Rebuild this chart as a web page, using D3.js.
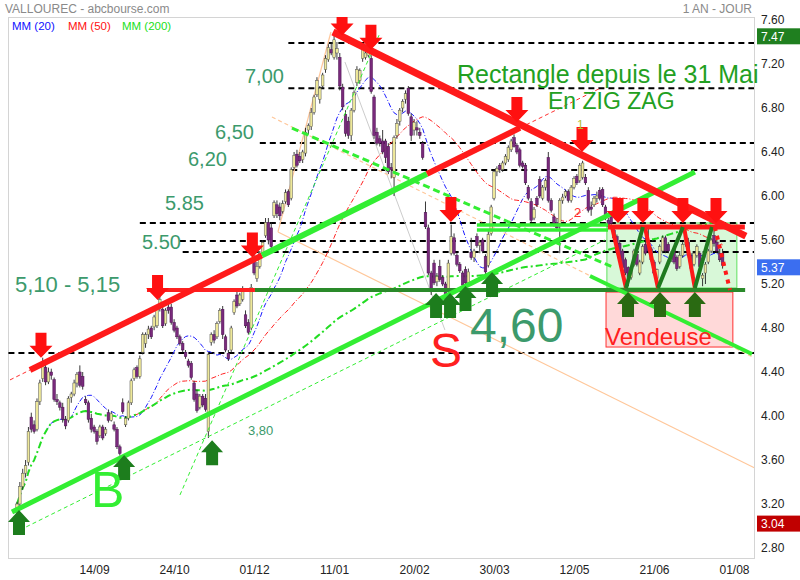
<!DOCTYPE html>
<html><head><meta charset="utf-8">
<script src="https://cdn.jsdelivr.net/npm/d3@7"></script>
<style>body{margin:0;background:#fff}svg{display:block}</style>
</head><body>
<svg id="c" width="800" height="580"></svg>
<script>
// ---------- DATA ----------
const tickIdx = [27,55,83,111,139,167,195,223,251];
const tickLabels = ["14/09","24/10","01/12","11/01","20/02","30/03","12/05","21/06","01/08"];
const yTicks = [2.8,3.2,3.6,4.0,4.4,4.8,5.2,5.6,6.0,6.4,6.8,7.2,7.6];

const opens = [3.12,3.20,3.36,3.48,3.58,3.99,3.92,3.88,4.13,4.34,
4.44,4.31,4.40,4.33,4.15,4.12,4.08,3.97,3.96,4.17,
4.20,4.30,4.40,4.36,4.15,4.12,3.98,3.90,3.86,3.82,
3.90,3.84,4.03,3.96,3.92,3.88,3.72,4.12,3.92,3.98,
4.12,4.34,4.44,4.36,4.58,4.66,4.74,4.80,4.81,4.82,
4.98,4.97,4.84,4.99,4.99,4.85,4.80,4.72,4.66,4.58,
4.50,4.48,4.30,4.20,4.08,4.18,4.16,3.86,4.67,4.74,
4.72,4.86,4.97,4.72,4.57,4.60,4.94,5.10,5.02,5.06,
4.92,4.85,4.80,5.44,5.25,5.36,5.48,5.64,5.76,5.71,
5.82,5.92,5.90,5.86,5.95,6.04,5.98,6.26,6.38,6.36,
6.33,6.39,6.60,6.63,6.76,6.92,6.88,7.00,7.15,7.24,
7.33,7.26,7.30,7.26,6.99,6.74,6.68,6.55,6.78,7.03,
7.05,7.25,7.26,7.28,7.25,6.90,6.58,6.52,6.50,6.50,
6.45,6.26,6.17,6.55,6.68,6.80,6.88,6.98,6.72,6.60,
6.62,6.58,6.48,5.85,5.71,5.30,5.39,5.22,5.36,5.26,
5.20,5.16,5.48,5.62,5.46,5.38,5.30,5.33,5.21,5.49,
5.44,5.63,5.55,5.60,5.45,5.37,5.66,5.98,6.22,6.28,
6.24,6.30,6.33,6.42,6.53,6.46,6.42,6.30,6.28,6.08,
5.95,5.80,5.98,6.15,5.98,6.08,6.35,5.96,5.81,5.76,
5.75,5.96,6.00,6.04,5.96,6.08,6.18,6.14,6.17,6.17,
6.05,5.90,5.92,5.98,6.05,6.06,5.90,5.78,5.81,5.69,
5.63,5.57,5.50,5.42,5.35,5.26,5.38,5.47,5.30,5.40,
5.56,5.60,5.52,5.40,5.25,5.40,5.50,5.62,5.56,5.42,
5.52,5.44,5.36,5.46,5.56,5.58,5.46,5.38,5.46,5.48,
5.25,5.30,5.40,5.50,5.64,5.58,5.48,5.48];
const highs = [3.22,3.40,3.52,3.60,3.90,4.03,3.96,4.16,4.33,4.53,
4.48,4.44,4.43,4.35,4.20,4.14,4.12,4.00,4.18,4.22,
4.33,4.40,4.46,4.40,4.18,4.14,4.02,3.92,3.88,3.92,
3.92,3.90,4.06,4.04,3.95,3.90,3.74,4.16,4.00,4.14,
4.34,4.44,4.46,4.55,4.76,4.76,4.82,4.82,4.92,5.00,
5.13,5.02,4.98,5.02,5.02,4.88,4.82,4.74,4.68,4.60,
4.52,4.50,4.32,4.24,4.20,4.20,4.20,4.58,4.76,4.78,
4.86,4.98,5.00,4.74,4.60,4.82,5.06,5.14,5.12,5.18,
4.96,4.88,5.20,5.52,5.40,5.50,5.60,5.80,5.80,5.76,
5.96,5.96,5.94,5.96,6.06,6.06,6.26,6.40,6.42,6.40,
6.42,6.62,6.66,6.80,6.92,7.08,7.00,7.12,7.28,7.38,
7.40,7.47,7.40,7.30,7.02,6.78,6.72,6.80,6.96,7.18,
7.16,7.36,7.34,7.40,7.28,6.92,6.62,6.55,6.60,6.52,
6.48,6.30,6.55,6.70,6.80,6.88,6.96,7.00,6.75,6.70,
6.68,6.62,6.50,5.95,5.74,5.32,5.42,5.30,5.42,5.28,
5.22,5.42,5.74,5.66,5.48,5.40,5.32,5.36,5.34,5.62,
5.52,5.66,5.60,5.62,5.47,5.68,5.92,6.24,6.27,6.30,
6.32,6.38,6.46,6.52,6.56,6.48,6.44,6.32,6.30,6.10,
5.98,5.90,6.00,6.18,6.10,6.16,6.40,5.98,5.84,5.80,
5.98,6.02,6.06,6.06,6.10,6.18,6.20,6.30,6.32,6.20,
6.08,5.95,6.00,6.04,6.08,6.08,5.92,5.80,5.84,5.72,
5.65,5.60,5.52,5.44,5.36,5.36,5.52,5.49,5.42,5.56,
5.62,5.70,5.54,5.42,5.34,5.56,5.64,5.64,5.58,5.50,
5.54,5.46,5.50,5.58,5.68,5.62,5.48,5.50,5.56,5.50,
5.30,5.40,5.52,5.62,5.72,5.60,5.52,5.52];
const lows = [3.04,3.18,3.33,3.44,3.55,3.85,3.84,3.86,4.10,4.31,
4.28,4.29,4.33,4.13,4.10,4.05,3.94,3.88,3.94,4.12,
4.18,4.26,4.26,4.24,4.10,3.94,3.85,3.84,3.74,3.80,
3.78,3.82,3.94,3.95,3.86,3.70,3.64,4.02,3.90,3.96,
4.10,4.32,4.34,4.34,4.56,4.62,4.70,4.70,4.78,4.80,
4.95,4.80,4.82,4.93,4.83,4.76,4.70,4.64,4.58,4.52,
4.44,4.33,4.13,4.03,4.06,4.08,4.04,3.80,4.64,4.66,
4.70,4.84,4.70,4.58,4.50,4.58,4.92,4.98,5.00,5.04,
4.80,4.74,4.78,5.28,5.22,5.34,5.46,5.62,5.56,5.52,
5.80,5.80,5.78,5.84,5.93,5.90,5.96,6.24,6.26,6.30,
6.30,6.36,6.56,6.60,6.74,6.90,6.84,6.98,7.12,7.22,
7.28,7.24,7.24,6.96,6.78,6.54,6.52,6.50,6.76,7.00,
7.02,7.22,7.24,7.26,6.93,6.52,6.46,6.45,6.38,6.30,
6.20,6.16,6.00,6.52,6.64,6.76,6.84,6.73,6.50,6.55,
6.55,6.52,6.33,5.70,5.28,5.10,5.19,5.18,5.22,5.18,
5.08,5.14,5.46,5.46,5.36,5.30,5.17,5.18,5.19,5.42,
5.40,5.53,5.48,5.48,5.29,5.35,5.64,5.96,6.18,6.21,
6.22,6.28,6.31,6.40,6.44,6.38,6.26,6.25,6.10,5.96,
5.76,5.78,5.90,5.98,5.96,6.05,5.94,5.85,5.72,5.68,
5.48,5.93,5.98,5.94,5.94,6.06,6.10,6.12,6.15,6.10,
5.85,5.82,5.90,5.94,5.96,5.90,5.78,5.70,5.73,5.60,
5.47,5.40,5.33,5.28,5.18,5.24,5.36,5.36,5.28,5.38,
5.46,5.48,5.40,5.28,5.16,5.38,5.48,5.48,5.48,5.40,
5.38,5.32,5.34,5.44,5.54,5.44,5.32,5.36,5.44,5.34,
5.18,5.20,5.38,5.48,5.54,5.48,5.40,5.34];
const closes = [3.20,3.36,3.48,3.55,3.86,3.88,3.86,4.13,4.30,4.46,
4.31,4.40,4.37,4.15,4.13,4.08,3.97,3.91,4.16,4.20,
4.30,4.38,4.28,4.27,4.12,3.97,3.88,3.86,3.77,3.90,
3.80,3.88,3.96,4.02,3.88,3.72,3.66,4.04,3.98,4.12,
4.32,4.42,4.36,4.52,4.74,4.74,4.79,4.72,4.90,4.98,
5.06,4.82,4.96,4.96,4.85,4.78,4.72,4.66,4.60,4.54,
4.46,4.35,4.15,4.05,4.18,4.10,4.06,4.56,4.74,4.69,
4.84,4.96,4.74,4.60,4.52,4.80,5.04,5.00,5.10,5.16,
4.82,4.76,5.17,5.30,5.36,5.48,5.58,5.76,5.60,5.54,
5.94,5.84,5.82,5.93,6.03,5.92,6.24,6.37,6.28,6.32,
6.40,6.58,6.64,6.76,6.90,7.05,6.98,7.10,7.25,7.35,
7.30,7.42,7.34,7.00,6.81,6.57,6.55,6.78,6.94,7.15,
7.14,7.33,7.30,7.36,6.95,6.55,6.48,6.48,6.40,6.35,
6.22,6.24,6.53,6.66,6.78,6.86,6.93,6.75,6.55,6.67,
6.60,6.55,6.35,5.72,5.30,5.13,5.21,5.27,5.24,5.20,
5.10,5.39,5.63,5.48,5.38,5.32,5.19,5.21,5.31,5.44,
5.50,5.55,5.58,5.50,5.31,5.65,5.90,6.22,6.25,6.24,
6.30,6.36,6.44,6.50,6.45,6.40,6.28,6.27,6.12,5.98,
5.78,5.88,5.92,6.00,6.08,6.14,5.96,5.87,5.75,5.71,
5.96,5.99,6.04,5.96,6.08,6.16,6.12,6.28,6.30,6.12,
5.87,5.88,5.98,6.00,5.98,5.92,5.80,5.72,5.75,5.62,
5.49,5.42,5.35,5.30,5.26,5.34,5.50,5.38,5.40,5.54,
5.48,5.50,5.42,5.30,5.33,5.54,5.62,5.50,5.50,5.48,
5.40,5.34,5.46,5.56,5.66,5.46,5.34,5.48,5.54,5.36,
5.28,5.38,5.50,5.60,5.57,5.50,5.42,5.37];

// moving-average periods and where each starts being drawn
const maPeriods = [20, 50, 200];
const maStart = [10, 41, 0];

// horizontal dashed levels: value, start index
const levelValues = [7.39, 6.98, 6.482, 6.236, 5.755, 5.591, 5.491, 4.573];
const levelStart  = [95, 95, 85, 75, 43, 57, 58, -3];

// trend lines [i1, v1, i2, v2]
const redRiseDashL = [-2.45, 4.328, 4.55, 4.418];
const redRise1 = [4.55, 4.418, 85.75, 5.460];
const greenRiseMid = [85.75, 5.460, 143.51, 6.201];
const redRise2 = [143.51, 6.201, 176.06, 6.619];
const redRiseDashR = [176.06, 6.619, 204.06, 6.978];
const redResist = [110.61, 7.491, 255.16, 5.636];
const greenSupport = [-1.75, 3.127, 237.31, 6.218];
const greenSupportDash = [1.05, 2.964, 205.81, 5.60];
const greenSteepDash = [57.05, 3.282, 127.06, 7.482];
const greenFallDash = [96.25, 6.618, 209.31, 5.345];
const grayFaint = [114.81, 7.218, 149.81, 4.782];
const peach1 = [109.9, 7.491, 91.35, 5.673];
const peach2 = [91.35, 5.673, 258.3, 3.527];
const peach3 = [89.25, 6.718, 258.3, 4.527];
const redFlat = [45.5, 5.145, 83.3, 5.145];
const darkGreenFlat = [83.3, 5.145, 254.9, 5.145];
const brightGreenFlatA = [161, 5.736, 206.9, 5.736];
const brightGreenFlatB = [161, 5.691, 206.9, 5.691];
const redTop = [206.9, 5.718, 254.8, 5.718];
const vendeuseLine = [200.6, 5.273, 257.3, 4.564];
const rectGreen = [206.5, 5.755, 252, 5.164];
const rectPink = [206.2, 5.127, 250.6, 4.627];
const zigRed = [[208.3,5.718,213.2,5.164],[219.8,5.718,224.4,5.164],[233.5,5.718,237.3,5.164]];
const zigGreen = [[213.2,5.164,219.1,5.718],[224.4,5.164,233.1,5.718],[237.3,5.164,243.3,5.718]];
const zigDot = [244.3,5.718,249.6,5.145];

const redArrows = [[8.4,4.53],[49.2,5.055],[82.4,5.44],[113.8,7.46],[123.9,7.33],[151.9,5.764],[175,6.673],[197.8,6.40],[210.4,5.755],[219.1,5.755],[233.1,5.755],[244.7,5.755]];
const greenArrows = [[0.7,3.145],[37.5,3.645],[68.3,3.78],[146.7,5.118],[151.6,5.118],[157.0,5.182],[166.3,5.31],[213.9,5.127],[225.1,5.127],[237.3,5.127]];

const lastValues = [{v:7.47, c:"#1f7f1f"}, {v:5.37, c:"#3b6ef0"}, {v:3.04, c:"#c00000"}];

// ---------- DRAW ----------
const svg = d3.select("#c");
const x = d3.scaleLinear().domain([0, 251]).range([17, 734]);
const y = d3.scaleLinear().domain([2.8, 7.6]).range([548, 20]);
const NARROW = "'Liberation Sans Narrow','Arial Narrow','Liberation Sans',Arial,sans-serif";
const ARIAL = "'Liberation Sans',Arial,sans-serif";

svg.append("defs").append("clipPath").attr("id","plot")
  .append("rect").attr("x",8).attr("y",17).attr("width",746).attr("height",541);

svg.append("rect").attr("x",8.5).attr("y",17.5).attr("width",746).attr("height",541)
  .attr("fill","#fff").attr("stroke","#d4d4d4");

// header
svg.append("text").attr("x",5).attr("y",13).attr("font-family",NARROW).attr("font-size",12)
  .attr("fill","#8a8a8a").text("VALLOUREC - abcbourse.com");
svg.append("text").attr("x",752).attr("y",13).attr("text-anchor","end").attr("font-family",NARROW)
  .attr("font-size",12).attr("fill","#8a8a8a").text("1 AN - JOUR");
const legend = [["MM (20)","#1010ff",12],["MM (50)","#ff1010",68],["MM (200)","#20e020",122]];
legend.forEach(l => svg.append("text").attr("x",l[2]).attr("y",30).attr("font-family",NARROW)
  .attr("font-size",11.5).attr("fill",l[1]).text(l[0]));

// axes
const yAxis = d3.axisRight(y).tickValues(yTicks).tickSize(0).tickFormat(d3.format(".2f"));
const gy = svg.append("g").attr("transform","translate(758,0)").call(yAxis);
gy.select(".domain").remove();
gy.selectAll("text").attr("font-family",NARROW).attr("font-size",12).attr("fill","#222").attr("x",3);

const xAxis = d3.axisBottom(x).tickValues(tickIdx).tickSize(0).tickFormat((d,i)=>tickLabels[i]);
const gx = svg.append("g").attr("transform","translate(0,562)").call(xAxis);
gx.select(".domain").remove();
gx.selectAll("text").attr("font-family",NARROW).attr("font-size",12).attr("fill","#222");

// value boxes
lastValues.forEach(d => {
  const g = svg.append("g").attr("transform",`translate(757,${y(d.v)-6})`);
  g.append("rect").attr("width",43).attr("height",16).attr("fill",d.c);
  g.append("text").attr("x",4).attr("y",12.5).attr("font-family",NARROW).attr("font-size",12)
    .attr("fill","#fff").text(d.v.toFixed(2));
});

const plot = svg.append("g").attr("clip-path","url(#plot)");
const seg = (s, color, w, dash, op) => plot.append("line")
  .attr("x1",x(s[0])).attr("y1",y(s[1])).attr("x2",x(s[2])).attr("y2",y(s[3]))
  .attr("stroke",color).attr("stroke-width",w).attr("stroke-dasharray",dash||null)
  .attr("opacity",op==null?1:op);

// rectangles
plot.append("rect").attr("x",x(rectPink[0])).attr("y",y(rectPink[1]))
  .attr("width",x(rectPink[2])-x(rectPink[0])).attr("height",y(rectPink[3])-y(rectPink[1]))
  .attr("fill","#ffd9d9").attr("stroke","#ff3030").attr("stroke-width",1);
plot.append("rect").attr("x",x(rectGreen[0])).attr("y",y(rectGreen[1]))
  .attr("width",x(rectGreen[2])-x(rectGreen[0])).attr("height",y(rectGreen[3])-y(rectGreen[1]))
  .attr("fill","#d8f8d8").attr("stroke","#60e060").attr("stroke-width",1);

// level dashed lines
levelValues.forEach((v,k) => seg([levelStart[k], v, 262, v], "#000", 2, "6,4"));

// faint background lines
seg(grayFaint, "#cccccc", 1);
seg(peach1, "#ffc79a", 1.2);
seg(peach2, "#ffc79a", 1.2);
seg(peach3, "#ffc79a", 1.2, "4,3");

// moving averages
const maColors = ["#1a1aff","#ff2020","#22dd22"];
const maWidths = [1, 1, 2];
const maDash = ["5,2,1,2","5,2,1,2","7,3,2,3"];
maPeriods.forEach((p,k) => {
  const pts = [];
  closes.forEach((c,i) => {
    if (i < maStart[k]) return;
    const w = closes.slice(Math.max(0, i-p+1), i+1);
    pts.push([i, d3.mean(w)]);
  });
  plot.append("path").attr("d", d3.line().x(d=>x(d[0])).y(d=>y(d[1]))(pts))
    .attr("fill","none").attr("stroke",maColors[k]).attr("stroke-width",maWidths[k])
    .attr("stroke-dasharray",maDash[k]);
});

// candles
const cw = 2.6;
const cg = plot.append("g");
closes.forEach((c,i) => {
  const o = opens[i], up = c >= o;
  cg.append("line").attr("x1",x(i)).attr("x2",x(i)).attr("y1",y(highs[i])).attr("y2",y(lows[i]))
    .attr("stroke","#222").attr("stroke-width",0.9);
  const top = y(Math.max(o,c)), bot = y(Math.min(o,c));
  cg.append("rect").attr("x",x(i)-cw/2).attr("y",top).attr("width",cw).attr("height",Math.max(1,bot-top))
    .attr("fill", up ? "#eee89a" : "#7a2a7c").attr("stroke", up ? "#555" : "#4a1050").attr("stroke-width",0.5);
});

// trend lines
seg(greenSupportDash, "#33ee33", 1, "4,3");
seg(greenSteepDash, "#33ee33", 1, "4,3");
seg(greenFallDash, "#33ee33", 3, "7,4");
seg(redFlat, "#ff2020", 4);
seg(darkGreenFlat, "#2a8a2a", 4);
seg(greenSupport, "#33ee33", 5);
seg(redRiseDashL, "#ff3030", 1, "4,3");
seg(redRiseDashR, "#ff3030", 1, "4,3");
seg(redRise1, "#ff1a1a", 6);
seg(greenRiseMid, "#33ee33", 6);
seg(redRise2, "#ff1a1a", 6);
seg(redResist, "#ff1a1a", 7);
seg(brightGreenFlatA, "#33ee33", 3.5);
seg(brightGreenFlatB, "#33ee33", 3.5);
seg(redTop, "#ff1a1a", 5);
seg(vendeuseLine, "#33ee33", 4);
zigRed.forEach(s => seg(s, "#ff1a1a", 4));
zigGreen.forEach(s => seg(s, "#1f7a1f", 4));
seg(zigDot, "#ff1a1a", 4, "4,5");

// arrows
const downArrow = "M-5.5,-25 L5.5,-25 L5.5,-12 L11.5,-12 L0,0 L-11.5,-12 L-5.5,-12 Z";
const upArrow = "M0,0 L11,12 L6,12 L6,25 L-6,25 L-6,12 L-11,12 Z";
redArrows.forEach(a => plot.append("path").attr("d",downArrow)
  .attr("transform",`translate(${x(a[0])},${y(a[1])})`).attr("fill","#ff1010"));
greenArrows.forEach((a,k) => plot.append("path").attr("d",upArrow)
  .attr("transform",`translate(${x(a[0])},${y(a[1])})`).attr("fill", k>=7 ? "#2a6a12" : "#1d7d1d"));

// annotations
const txt = (s, px, py, size, color, font, anchor) => svg.append("text").attr("x",px).attr("y",py)
  .attr("font-family",font||ARIAL).attr("font-size",size).attr("fill",color)
  .attr("text-anchor",anchor||"start").text(s);
const lvl = "#3c9a6c";
txt("7,00", 245, 83, 20, lvl);
txt("6,50", 215, 139, 20, lvl);
txt("6,20", 188, 166, 20, lvl);
txt("5.85", 165, 210, 20, lvl);
txt("5.50", 142, 249, 20, lvl);
txt("5,10 - 5,15", 15, 292, 22, lvl);
txt("3,80", 248, 435, 13, lvl);
txt("4,60", 470, 342, 48, lvl);
txt("S", 430, 367, 48, "#ff2020");
txt("B", 91, 507, 50, "#33ee33");
txt("Rectangle depuis le 31 Mai", 457, 83, 25, "#22a022");
txt("En ZIG ZAG", 548, 109, 23, "#22a022");
txt("1", 577, 129, 12, "#b0c030");
txt("Vendeuse", 605, 345, 24, "#ff2020");
txt("2", 574, 217, 13, "#ff3030");
</script>
</body></html>
